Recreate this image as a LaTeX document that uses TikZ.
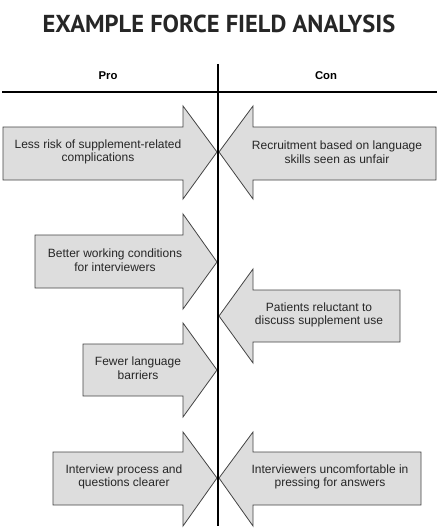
\documentclass[tikz,border=0pt]{standalone}
\usepackage{fontspec}
\setmainfont{Liberation Sans}
\newfontfamily\titlefont{PT Sans}
\usetikzlibrary{positioning}

\definecolor{arrowfill}{HTML}{DDDDDD}
\definecolor{arrowline}{HTML}{444444}

\begin{document}
\begin{tikzpicture}[
        x=1pt, y=-1pt,
        every node/.style={font=\fontsize{12}{13.5}\selectfont},
        force/.style={draw=arrowline, fill=arrowfill, line width=0.8pt, line join=miter},
        label/.style={align=center, inner sep=0pt, text=black!85},
        head/.style={font=\fontsize{11.3}{13}\selectfont\bfseries, inner sep=0pt},
        divider/.style={line width=1.3pt, black},
    ]
    \useasboundingbox (0,0) rectangle (440,532);

    %% ===== Title and headings =====
    \node[font=\titlefont\fontsize{24.5}{28}\selectfont\bfseries, inner sep=0pt, text=black!85] (title) at (219,24) {EXAMPLE FORCE FIELD ANALYSIS};
    \node[head] (pro) at (108,76) {Pro};
    \node[head] (con) at (326,76) {Con};

    \coordinate (top) at (218,64);
    \coordinate (bottom) at (218,526);
    \coordinate (ruleL) at (2,92);
    \coordinate (ruleR) at (437,92);

    %% ===== Pro forces (pointing right) =====
    \draw[force] (3,127) -- (183,127) -- (183,106) -- (217,152) -- (183,199) -- (183,180) -- (3,180) -- cycle;
    \node[label] (pro1) at (98,152) {Less risk of supplement-related\\complications};

    \draw[force] (35,235) -- (183,235) -- (183,214) -- (217,262) -- (183,309) -- (183,288) -- (35,288) -- cycle;
    \node[label] (pro2) at (115,260) {Better working conditions\\for interviewers};

    \draw[force] (83,344) -- (183,344) -- (183,323) -- (217,370) -- (183,417) -- (183,396) -- (83,396) -- cycle;
    \node[label] (pro3) at (138,368) {Fewer language\\barriers};

    \draw[force] (53,452) -- (183,452) -- (183,432) -- (217,478) -- (183,526) -- (183,505) -- (53,505) -- cycle;
    \node[label] (pro4) at (124,477) {Interview process and\\questions clearer};

    %% ===== Con forces (pointing left) =====
    \draw[force] (436,127) -- (253,127) -- (253,106) -- (219,152) -- (253,199) -- (253,180) -- (436,180) -- cycle;
    \node[label] (con1) at (337,152) {Recruitment based on language\\skills seen as unfair};

    \draw[force] (400,290) -- (253,290) -- (253,269) -- (219,316) -- (253,363) -- (253,342) -- (400,342) -- cycle;
    \node[label] (con2) at (319,315) {Patients reluctant to\\discuss supplement use};

    \draw[force] (421,452) -- (253,452) -- (253,432) -- (219,478) -- (253,526) -- (253,505) -- (421,505) -- cycle;
    \node[label] (con3) at (330,477) {Interviewers uncomfortable in\\pressing for answers};

    %% ===== Divider lines =====
    \draw[divider] (ruleL) -- (ruleR);
    \draw[divider] (top) -- (bottom);

\end{tikzpicture}
\end{document}
